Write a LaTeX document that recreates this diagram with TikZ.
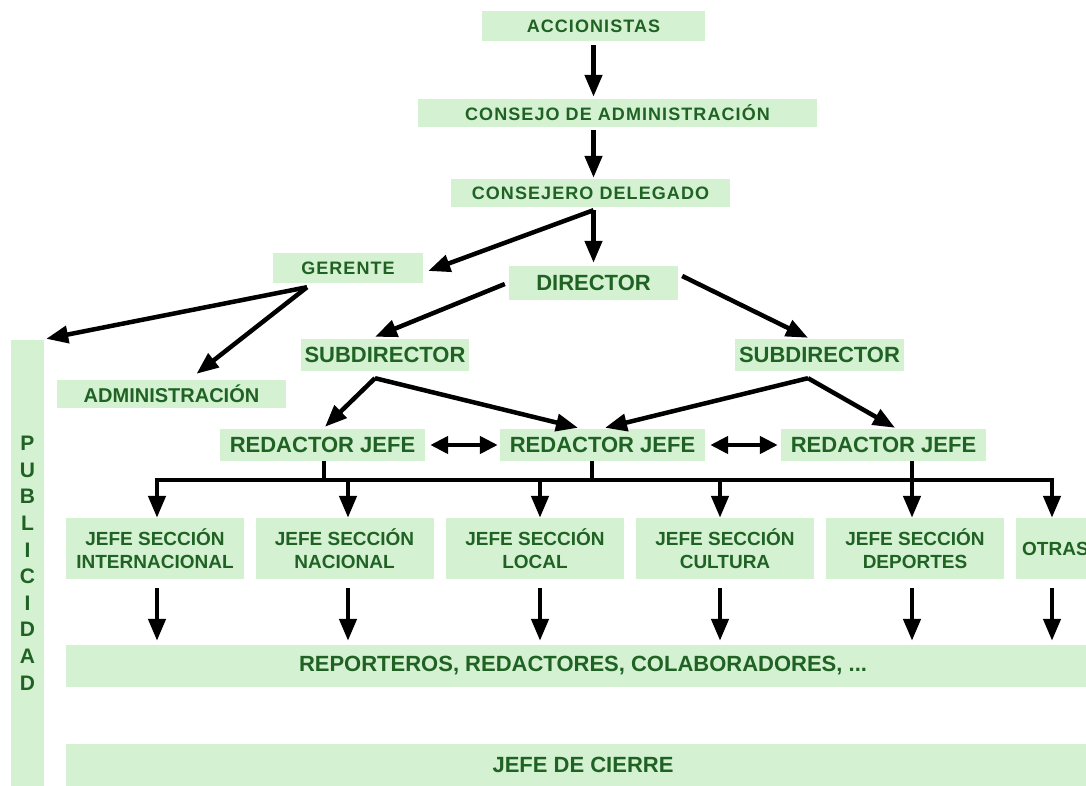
\documentclass[tikz,border=0pt]{standalone}
\usepackage{fontspec}
\setmainfont{Liberation Sans}
\usetikzlibrary{arrows.meta,calc}
\definecolor{boxfill}{RGB}{212,242,210}
\definecolor{txt}{RGB}{32,98,36}
\begin{document}
\begin{tikzpicture}[x=1pt,y=-1pt,
  box/.style={fill=boxfill, draw=none, text=txt, inner sep=0pt, align=center},
  topbox/.style={box, font=\fontsize{18}{21}\selectfont\bfseries\addfontfeature{LetterSpace=6}},
  bigbox/.style={box, font=\fontsize{22}{26}\selectfont\bfseries},
  midbox/.style={box, font=\fontsize{20}{24}\selectfont\bfseries},
  jsbox/.style={box, font=\fontsize{19}{23.5}\selectfont\bfseries, minimum width=178, minimum height=61},
  wide/.style={box, font=\fontsize{22}{26}\selectfont\bfseries, minimum width=1034, minimum height=42},
  conn/.style={line width=4.5pt, black},
  arr/.style={conn, -{Triangle[length=22pt,width=17pt]}},
  darr/.style={conn, {Triangle[length=18pt,width=17pt]}-{Triangle[length=18pt,width=17pt]}}]
\useasboundingbox (0,0) rectangle (1086,786);
\clip (0,0) rectangle (1086,786);

% nodes
\node[topbox, minimum width=223, minimum height=30] (acc) at (593.5,26) {ACCIONISTAS};
\node[topbox, minimum width=399, minimum height=28] (cons) at (617.5,113) {CONSEJO DE ADMINISTRACIÓN};
\node[topbox, minimum width=279, minimum height=28] (cdel) at (590.5,193) {CONSEJERO DELEGADO};
\node[topbox, minimum width=150, minimum height=30] (ger) at (348,268) {GERENTE};
\node[bigbox, minimum width=169, minimum height=34] (dir) at (593.5,283) {DIRECTOR};
\node[bigbox, minimum width=168, minimum height=32] (sub1) at (385,355) {SUBDIRECTOR};
\node[bigbox, minimum width=169, minimum height=32] (sub2) at (819.5,355) {SUBDIRECTOR};
\node[midbox, minimum width=229, minimum height=28] (adm) at (171.5,394) {ADMINISTRACIÓN};
\node[bigbox, minimum width=205, minimum height=32] (rj1) at (322.5,445) {REDACTOR JEFE};
\node[bigbox, minimum width=205, minimum height=32] (rj2) at (602.5,445) {REDACTOR JEFE};
\node[bigbox, minimum width=205, minimum height=32] (rj3) at (883.5,445) {REDACTOR JEFE};
\node[box, font=\fontsize{21}{26.6}\selectfont\bfseries, minimum width=33, minimum height=450] (pub) at (27.5,565)
  {\raisebox{1pt}{\begin{tabular}{@{}c@{}}P\\U\\B\\L\\I\\C\\I\\D\\A\\D\end{tabular}}};
\node[jsbox] (js1) at (155,548.5) {JEFE SECCIÓN\\INTERNACIONAL};
\node[jsbox] (js2) at (344.5,548.5) {JEFE SECCIÓN\\NACIONAL};
\node[jsbox] (js3) at (535,548.5) {JEFE SECCIÓN\\LOCAL};
\node[jsbox] (js4) at (725,548.5) {JEFE SECCIÓN\\CULTURA};
\node[jsbox] (js5) at (915,548.5) {JEFE SECCIÓN\\DEPORTES};
\node[jsbox, anchor=west, text width=166, align=left, inner xsep=6pt, minimum width=0pt] (js6) at (1016,548.5) {OTRAS};
\node[wide] (rep) at (583,666) {REPORTEROS, REDACTORES, COLABORADORES, ...};
\node[wide] (cierre) at (583,765) {JEFE DE CIERRE};

% top chain
\draw[arr, shorten <=4pt, shorten >=2pt] (acc.south) -- (acc.south |- cons.north);
\draw[arr, shorten <=3pt, shorten >=1pt] (acc.south |- cons.south) -- (acc.south |- cdel.north);
\draw[arr, shorten <=3pt, shorten >=3pt] (dir.north |- cdel.south) -- (dir.north);
\draw[arr] ($(dir.north |- cdel.south)+(0,3)$) -- ($(ger.east)+(5,3)$);
\draw[arr] ($(ger.south)+(-41,4)$) -- ($(pub.north east)+(2,-1)$);
\draw[arr] ($(ger.south)+(-41,4)$) -- ($(adm.north)+(25,-6)$);
\draw[arr] ($(dir.west)+(-4,1)$) -- ($(sub1.north)+(-10,-2)$);
\draw[arr] ($(dir.east)+(4,-7)$) -- ($(sub2.north)+(-11.5,-1)$);
\draw[arr] ($(sub1.south)+(-10,7)$) -- ($(rj1.north)+(2.5,-2)$);
\draw[arr] ($(sub1.south)+(-10,7)$) -- ($(rj2.north)+(-24.5,-1)$);
\draw[arr] ($(sub2.south)+(-11.5,7)$) -- ($(rj2.north)+(2.5,-1)$);
\draw[arr] ($(sub2.south)+(-11.5,7)$) -- ($(rj3.north)+(11.5,-1)$);
\draw[darr, shorten <=5pt, shorten >=2pt] (rj1.east) -- (rj2.west);
\draw[darr, shorten <=5pt, shorten >=3pt] (rj2.east) -- (rj3.west);

% bus
\coordinate (b1) at (157,480);
\coordinate (b2) at (348,480);
\coordinate (b3) at (540,480);
\coordinate (b4) at (720,480);
\coordinate (b5) at (912,480);
\coordinate (b6) at (1052,480);
\coordinate (m1) at (324,480);
\coordinate (m2) at (592,480);
\draw[conn, line cap=rect] (b1) -- (b6);
\draw[conn] (m1 |- rj1.south) -- (m1);
\draw[conn] (m2 |- rj2.south) -- (m2);
\draw[conn] (b5 |- rj3.south) -- (b5);
\foreach \b/\j in {b1/js1,b2/js2,b3/js3,b4/js4,b5/js5,b6/js6}{
  \draw[arr] (\b) -- (\b |- \j.north);
  \draw[arr, shorten <=9pt, shorten >=4pt] (\b |- \j.south) -- (\b |- rep.north);
}
\end{tikzpicture}
\end{document}
